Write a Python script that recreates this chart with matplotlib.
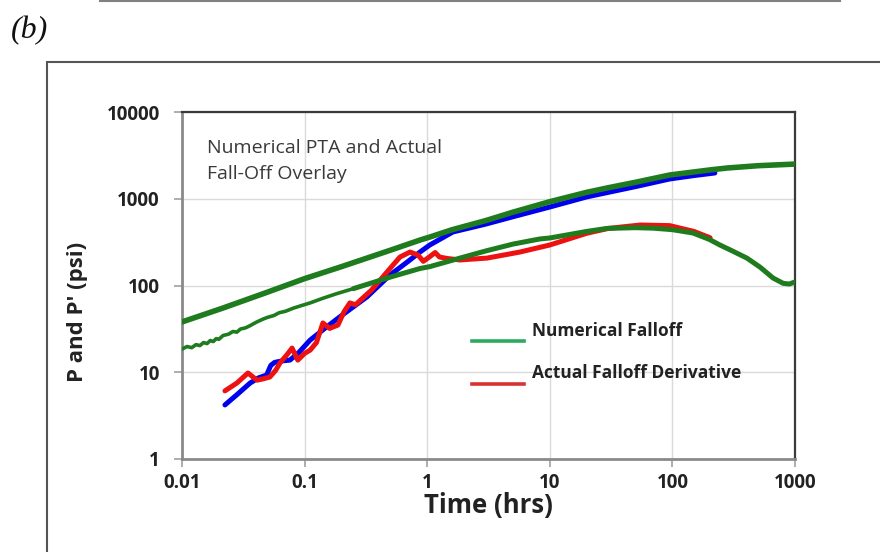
import matplotlib
matplotlib.use("Agg")
import matplotlib.pyplot as plt
from matplotlib.patches import Rectangle
from matplotlib.lines import Line2D

# ---------------- data ----------------
# Numerical falloff pressure (upper green)
num_p_t = [0.01, 0.0216, 0.05, 0.1, 0.2, 0.3, 0.5, 0.873, 1.05, 1.6, 3, 5, 10, 20, 30, 50, 95, 200, 280, 500, 1000]
num_p_v = [38, 55, 84, 120, 165, 200, 255, 334, 362, 440, 560, 700, 925, 1186, 1340, 1548, 1878, 2145, 2262, 2404, 2510]

# Numerical falloff derivative (lower green)
num_d_t_early = [0.01, 0.011, 0.012, 0.013, 0.014, 0.015, 0.016, 0.017, 0.018, 0.019, 0.02, 0.0216, 0.024, 0.026,
                 0.028, 0.03, 0.033, 0.036, 0.04, 0.0458, 0.05, 0.056, 0.062, 0.07, 0.08, 0.0918, 0.111, 0.14, 0.18, 0.25]
num_d_v_early = [18.5, 19.8, 19.2, 20.8, 20.3, 22.0, 21.4, 23.2, 22.6, 24.4, 24.0, 26.5, 27.5, 29.5,
                 29.0, 31.5, 32.5, 34.5, 37.5, 41.0, 43.0, 45.0, 48.5, 50.5, 54.5, 58.0, 63, 71, 80, 92]
num_d_t_late = [0.25, 0.5, 0.873, 1.05, 1.85, 3, 5, 8.3, 10, 20, 29.3, 50, 70, 100, 147, 200, 244, 300, 405, 518, 662, 800, 900, 1000]
num_d_v_late = [92, 125, 157, 165, 207, 250, 300, 344, 353, 420, 455, 464, 458, 440, 403, 340, 293, 255, 207, 163, 122, 106, 104, 110]

# Actual falloff pressure (blue)
act_p_t = [0.0224, 0.028, 0.0359, 0.042, 0.049, 0.053, 0.057, 0.065, 0.076, 0.09, 0.111, 0.15, 0.2, 0.323, 0.497, 0.7,
           0.873, 1.05, 1.62, 3, 5, 10, 20, 50, 95, 150, 222]
act_p_v = [4.2, 5.5, 7.5, 8.6, 9.3, 12.0, 13.0, 13.5, 13.8, 17, 23.5, 33, 45, 74, 132, 190,
           243, 293, 414, 510, 620, 803, 1050, 1380, 1690, 1850, 1982]

# Actual falloff derivative (red)
act_d_t = [0.0224, 0.028, 0.0345, 0.041, 0.046, 0.052, 0.058, 0.063, 0.072, 0.079, 0.088, 0.1, 0.111, 0.125, 0.141,
           0.16, 0.187, 0.21, 0.234, 0.26, 0.299, 0.35, 0.427, 0.526, 0.6, 0.724, 0.84, 0.93, 1.05, 1.16, 1.26,
           1.45, 1.85, 3.08, 5.7, 10, 20, 30, 54.5, 95, 150, 203]
act_d_v = [6.1, 7.5, 9.8, 8.1, 8.4, 8.8, 10.5, 12.8, 16, 19, 13.8, 16.5, 18, 22, 37,
           32, 35, 50, 63, 60, 72, 88, 122, 172, 213, 243, 225, 190, 215, 240, 213,
           205, 197, 207, 243, 293, 400, 455, 498, 490, 420, 355]

x_ticks = [0.01, 0.1, 1, 10, 100, 1000]
x_tick_labels = ["0.01", "0.1", "1", "10", "100", "1000"]
y_ticks = [1, 10, 100, 1000, 10000]
y_tick_labels = ["1", "10", "100", "1000", "10000"]

legend_labels = ["Numerical Falloff", "Actual Falloff Derivative"]
note_text = "Numerical PTA and Actual\nFall-Off Overlay"

# ---------------- figure ----------------
W, H = 880, 552
fig = plt.figure(figsize=(W / 100, H / 100), dpi=100)
plt.rcParams['font.family'] = ['Open Sans', 'DejaVu Sans']

def fx(px):
    return px / W

def fy(py):
    return 1 - py / H

# outer decorations
fig.add_artist(Line2D([fx(100), fx(840)], [fy(1), fy(1)], color="#808080", lw=1.5))
fig.add_artist(Rectangle((fx(47), -0.2), 1.0, fy(62) + 0.2, transform=fig.transFigure,
                         fill=False, ec="#555555", lw=1.5))
fig.text(fx(11), fy(31), "(b)", fontsize=23, style="italic", family="Liberation Serif",
         ha="left", va="center", color="#111111")

ax = fig.add_axes([fx(182), fy(459), fx(795) - fx(182), fy(112) - fy(459)])
ax.set_xscale("log")
ax.set_yscale("log")
ax.set_xlim(0.01, 1000)
ax.set_ylim(1, 10000)

dark_green = "#1e7b1e"
ax.plot(act_p_t, act_p_v, color="#0000ee", lw=3.6, solid_capstyle="round", zorder=3)
ax.plot(act_d_t, act_d_v, color="#ee1111", lw=3.6, solid_capstyle="round", zorder=4)
ax.plot(num_p_t, num_p_v, color=dark_green, lw=4.0, solid_capstyle="round", zorder=5)
ax.plot(num_d_t_early, num_d_v_early, color=dark_green, lw=2.6, solid_capstyle="round", zorder=5)
ax.plot(num_d_t_late, num_d_v_late, color=dark_green, lw=3.6, solid_capstyle="round", zorder=5)

ax.set_xticks(x_ticks)
ax.set_xticklabels(x_tick_labels)
ax.set_yticks(y_ticks)
ax.set_yticklabels(y_tick_labels)
ax.minorticks_off()
ax.tick_params(axis="both", which="major", length=6, width=1.2, color="#a0a0a0",
               labelsize=13.5, labelcolor="#222222")
ax.tick_params(axis="x", pad=4)
ax.tick_params(axis="y", pad=10)
for lab in ax.get_xticklabels() + ax.get_yticklabels():
    lab.set_fontweight("bold")

ax.grid(True, which="major", color="#dadada", lw=1.0)
ax.set_axisbelow(True)
for side in ["left", "bottom"]:
    ax.spines[side].set_color("#8a8a8a")
    ax.spines[side].set_linewidth(2.0)
for side in ["top", "right"]:
    ax.spines[side].set_color("#3a3a3a")
    ax.spines[side].set_linewidth(1.6)

fig.text(fx(77), fy(312), "P and P' (psi)", rotation=90, fontsize=16, fontweight="bold",
         ha="center", va="center", color="#222222")
fig.text(fx(488), fy(505), "Time (hrs)", fontsize=18.5, fontweight="bold",
         ha="center", va="center", color="#222222")

ax.text(fx(207 - 182) / (fx(795) - fx(182)), (459 - 139) / (459 - 112), note_text,
        transform=ax.transAxes, fontsize=14, color="#3a3a3a", ha="left", va="top",
        linespacing=1.55)

# custom legend
leg_colors = ["#2eaa5e", "#d83333"]
leg_line_y = [341, 384]
leg_text_y = [331, 373]
for lab, col, ly, ty in zip(legend_labels, leg_colors, leg_line_y, leg_text_y):
    fig.add_artist(Line2D([fx(472), fx(524)], [fy(ly), fy(ly)], color=col, lw=2.6))
    fig.text(fx(532), fy(ty), lab, fontsize=12.5, fontweight="bold", color="#222222",
             ha="left", va="center")

fig.savefig("out.png", dpi=100)
